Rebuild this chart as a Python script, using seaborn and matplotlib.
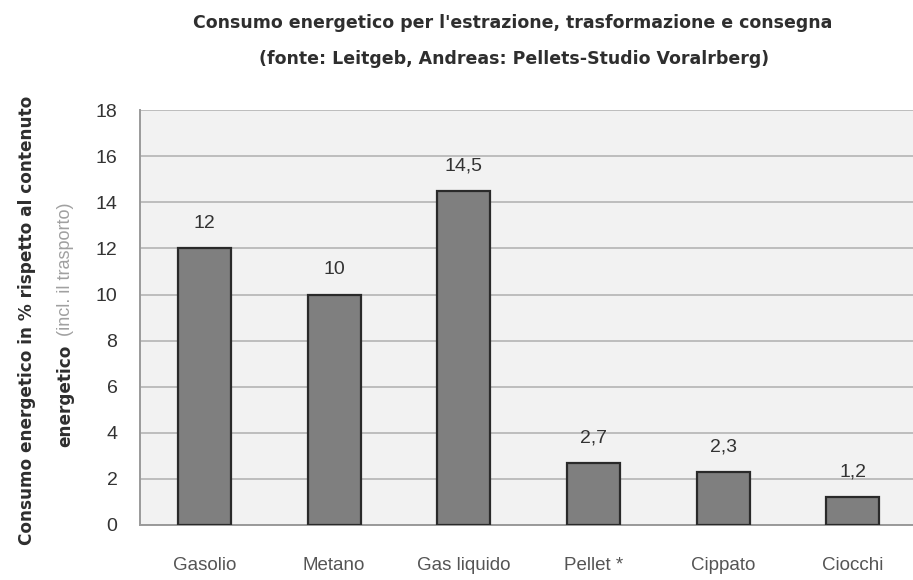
import numpy as np
import pandas as pd
import matplotlib
matplotlib.use("Agg")
import matplotlib.pyplot as plt
import seaborn as sns
from matplotlib.ticker import FixedLocator

# Dati del grafico
categorie = ["Gasolio", "Metano", "Gas liquido", "Pellet *", "Cippato", "Ciocchi"]
valori = [12, 10, 14.5, 2.7, 2.3, 1.2]
etichette = ["12", "10", "14,5", "2,7", "2,3", "1,2"]
y_ticks = [0, 2, 4, 6, 8, 10, 12, 14, 16, 18]

df = pd.DataFrame({"Combustibile": categorie, "Consumo": valori})

sns.set_style("white")
plt.rcParams["font.family"] = ["Liberation Sans", "DejaVu Sans"]

fig = plt.figure(figsize=(9.13, 5.8), dpi=100)
ax = fig.add_axes([0.153, 0.095, 0.852, 0.715])
ax.set_facecolor("#f2f2f2")

sns.barplot(data=df, x="Combustibile", y="Consumo", color="#7f7f7f",
            saturation=1, width=0.41, edgecolor="#2a2a2a", linewidth=1.6,
            ax=ax, zorder=3)

ax.set_ylim(0, 18)
ax.set_xlim(-0.5, 5.5)
ax.set_yticks(y_ticks)
ax.set_yticklabels([str(t) for t in y_ticks], fontsize=14, color="#333333")
ax.yaxis.grid(True, color="#b4b4b4", linewidth=1.2, zorder=0)
ax.set_axisbelow(True)

# tacche dell'asse x tra le categorie
ax.xaxis.set_minor_locator(FixedLocator(np.arange(-0.5, 6, 1)))
ax.tick_params(axis="x", which="major", length=0, pad=23,
               labelsize=13.5, labelcolor="#555555")
ax.tick_params(axis="x", which="minor", length=8, color="#9a9a9a", width=1.2)
ax.tick_params(axis="y", length=8, color="#9a9a9a", width=1.2, pad=8)

for s in ["top", "right"]:
    ax.spines[s].set_visible(False)
for s in ["left", "bottom"]:
    ax.spines[s].set_color("#9a9a9a")
    ax.spines[s].set_linewidth(1.4)

ax.set_xlabel("")
ax.set_ylabel("")

for i, (v, t) in enumerate(zip(valori, etichette)):
    ax.annotate(t, (i, v), xytext=(0, 12), textcoords="offset points",
                ha="center", va="bottom", fontsize=14, color="#333333")

# titolo
fig.text(0.562, 0.960, "Consumo energetico per l'estrazione, trasformazione e consegna",
         ha="center", va="center", fontsize=12.5, fontweight="bold",
         color="#2e2e2e", family="DejaVu Sans")
fig.text(0.563, 0.898, "(fonte: Leitgeb, Andreas: Pellets-Studio Voralrberg)",
         ha="center", va="center", fontsize=12.5, fontweight="bold",
         color="#2e2e2e", family="DejaVu Sans")

# etichetta asse y su due righe
fig.text(0.030, 1 - 320 / 580, "Consumo energetico in % rispetto al contenuto",
         rotation=90, ha="center", va="center", fontsize=12.2,
         fontweight="bold", color="#2e2e2e", family="DejaVu Sans")
fig.text(0.072, 1 - 447 / 580, "energetico", rotation=90, ha="center",
         va="bottom", fontsize=12.2, fontweight="bold", color="#2e2e2e",
         family="DejaVu Sans")
fig.text(0.072, 1 - 336 / 580, "(incl. il trasporto)", rotation=90,
         ha="center", va="bottom", fontsize=13, color="#a0a0a0")

fig.savefig("out.png", dpi=100, facecolor="white")
